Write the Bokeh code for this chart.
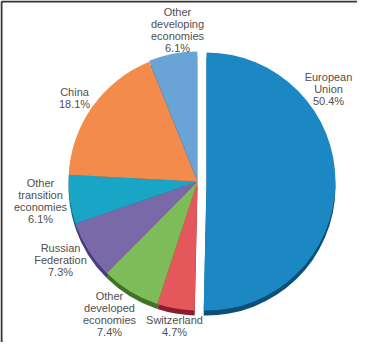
import math
from bokeh.plotting import figure
from bokeh.models import Range1d, ColumnDataSource
from bokeh.core.properties import value
from bokeh.embed import file_html
from bokeh.resources import INLINE

# ---- data ----
categories = ["European Union", "Switzerland", "Other developed economies",
              "Russian Federation", "Other transition economies", "China",
              "Other developing economies"]
shares = [50.4, 4.7, 7.4, 7.3, 6.1, 18.1, 6.1]
label_texts = ["European\nUnion\n50.4%", "Switzerland\n4.7%",
               "Other\ndeveloped\neconomies\n7.4%", "Russian\nFederation\n7.3%",
               "Other\ntransition\neconomies\n6.1%", "China\n18.1%",
               "Other\ndeveloping\neconomies\n6.1%"]

# ---- styles / layout ----
colors = ["#1b88c3", "#e4585c", "#7dbc58", "#7a69a9", "#19a6c6", "#f28b4b", "#6aa3d5"]
side_colors = ["#0d4f78", "#8c1d2c", "#3f7428", "#4b3d78", "#0d6a80", "#a8531f", "#3b6b99"]
explode = [9, 0, 0, 0, 0, 0, 1]
label_pos = [(336, 84), (182, 327), (117, 303), (68, 255), (48, 190), (82, 99), (185, 19)]
CX, CY, R, DEPTH = 205, 189, 129, 5
X0, Y0 = 8, 8

W, H = 357, 342
p = figure(width=W, height=H, output_backend="svg", toolbar_location=None,
           x_range=Range1d(X0, X0 + W), y_range=Range1d(-(Y0 + H), -Y0),
           min_border=0, outline_line_color=None)
p.axis.visible = False
p.grid.visible = False
p.background_fill_color = "white"

total = sum(shares)
starts, ends, xs, ys = [], [], [], []
cum = 0.0
for s, off in zip(shares, explode):
    a_end = math.pi / 2 - cum / total * 2 * math.pi
    cum += s
    a_start = math.pi / 2 - cum / total * 2 * math.pi
    mid = (a_start + a_end) / 2
    starts.append(a_start)
    ends.append(a_end)
    xs.append(CX + off * math.cos(mid))
    ys.append(-CY + off * math.sin(mid))

src = ColumnDataSource(dict(cat=categories, share=shares, start=starts, end=ends,
                            x=xs, y=ys, ys=[y - DEPTH for y in ys],
                            color=colors, side=side_colors))

# 3D side (depth)
p.wedge(x="x", y="ys", radius=R, start_angle="start", end_angle="end",
        fill_color="side", line_color=None, source=src)
# top face
p.wedge(x="x", y="y", radius=R, start_angle="start", end_angle="end",
        fill_color="color", line_color=None, source=src)

# labels
for txt, (lx, ly) in zip(label_texts, label_pos):
    lines = txt.split("\n")
    for i, line in enumerate(lines):
        p.text(x=[lx], y=[-(ly + i * 12.3)], text=[line], text_align="center",
               text_baseline="middle", text_font=value("Liberation Sans"),
               text_font_size="11px", text_color="#505050")

# frame (left and top edges)
p.line(x=[X0 + 1, X0 + 1], y=[-(Y0 + H), -(Y0 + 1)], line_color="#333333", line_width=2)
p.line(x=[X0 + 1, X0 + W], y=[-(Y0 + 1), -(Y0 + 1)], line_color="#333333", line_width=2)

open("out.html", "w").write(file_html(p, INLINE))
